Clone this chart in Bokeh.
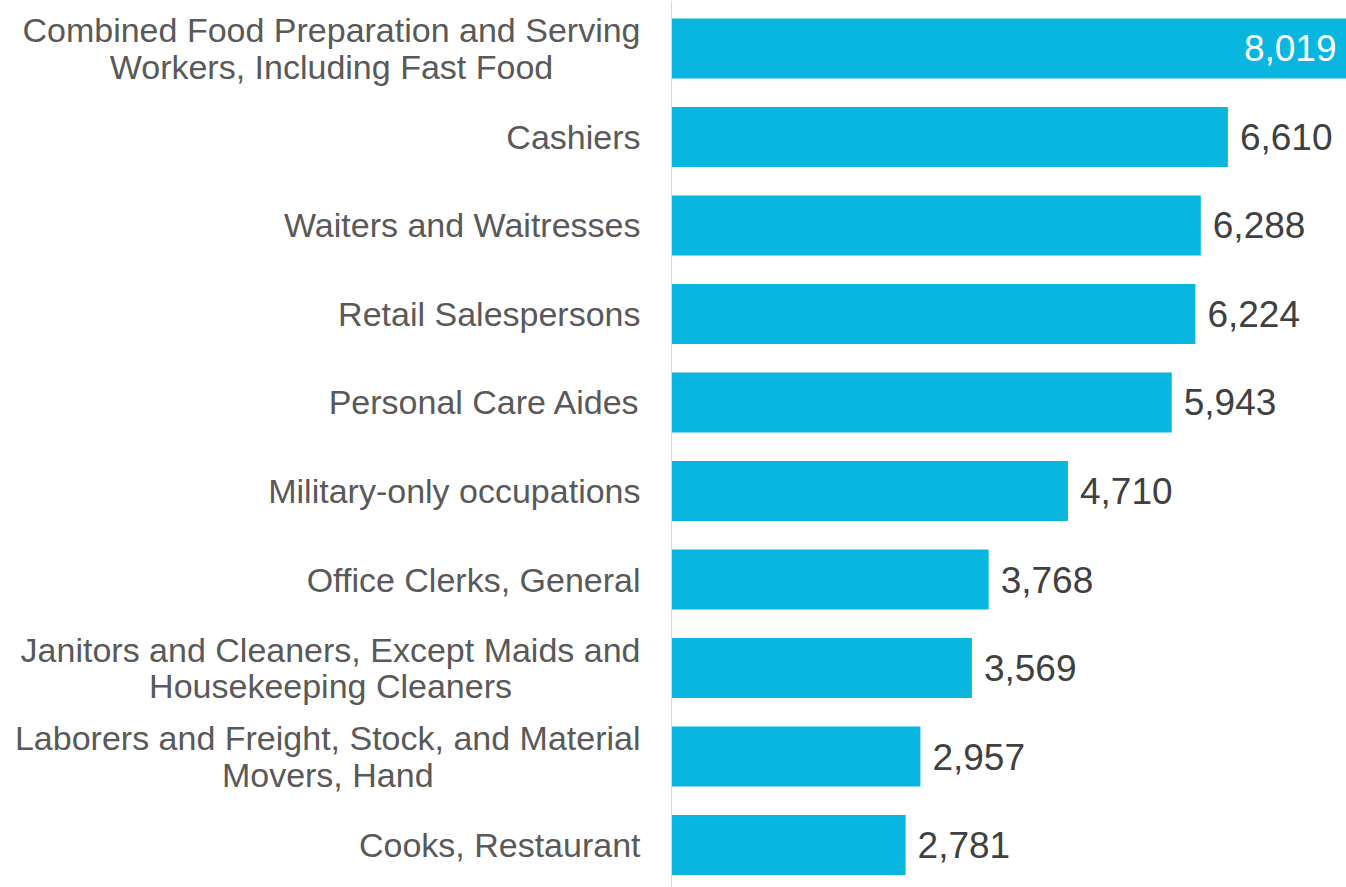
from bokeh.plotting import figure
from bokeh.models import Range1d, ColumnDataSource, Span
from bokeh.core.properties import value
from bokeh.embed import file_html
from bokeh.resources import INLINE

categories = [
    "Combined Food Preparation and Serving\nWorkers, Including Fast Food",
    "Cashiers",
    "Waiters and Waitresses",
    "Retail Salespersons",
    "Personal Care Aides",
    "Military-only occupations",
    "Office Clerks, General",
    "Janitors and Cleaners, Except Maids and\nHousekeeping Cleaners",
    "Laborers and Freight, Stock, and Material\nMovers, Hand",
    "Cooks, Restaurant",
]
values = [8019, 6610, 6288, 6224, 5943, 4710, 3768, 3569, 2957, 2781]

pos = list(range(len(categories)))
labels = [f"{v:,}" for v in values]

W, H = 1346, 887
PLOT_LEFT = 671  # pixel where the value axis starts
xmax = max(values)
units_per_px = xmax / (W - PLOT_LEFT)

src = ColumnDataSource(dict(y=pos, x=values))
src_cat = ColumnDataSource(dict(y=pos, x=[0] * len(pos), t=categories))
src_out = ColumnDataSource(dict(y=pos[1:], x=values[1:], t=labels[1:]))
src_in = ColumnDataSource(dict(y=pos[:1], x=values[:1], t=labels[:1]))

p = figure(width=W, height=H, output_backend="svg", toolbar_location=None,
           x_range=Range1d(-PLOT_LEFT * units_per_px, xmax),
           y_range=Range1d(9.48, -0.542),
           min_border=0, x_axis_location=None, y_axis_location=None)
p.outline_line_color = None
p.grid.visible = False
p.background_fill_color = "white"
p.border_fill_color = "white"

p.hbar(y="y", right="x", left=0, height=0.678, source=src, fill_color="#08B6E0",
       line_color=None)

p.add_layout(Span(location=0, dimension="height", line_color="#D9D9D9",
                  line_width=1))

p.text(x="x", y="y", text="t", source=src_cat, x_offset=-31,
       anchor="center_right", text_align="center", text_baseline="middle",
       text_font=value("Liberation Sans"), text_font_size="34px",
       text_line_height=0.95, text_color="#595959")

p.text(x="x", y="y", text="t", source=src_out, x_offset=12,
       text_align="left", text_baseline="middle",
       text_font=value("Liberation Sans"), text_font_size="37px",
       text_color="#404040")
p.text(x="x", y="y", text="t", source=src_in, x_offset=-10,
       text_align="right", text_baseline="middle",
       text_font=value("Liberation Sans"), text_font_size="37px",
       text_color="white")

open("out.html", "w").write(file_html(p, INLINE))
